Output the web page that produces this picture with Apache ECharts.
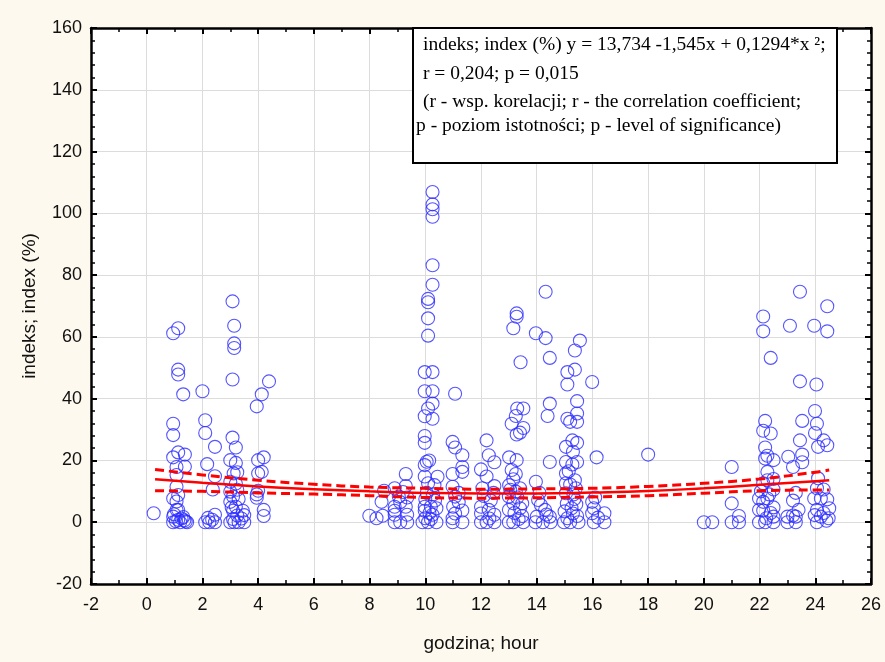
<!DOCTYPE html>
<html>
<head>
<meta charset="utf-8">
<script src="https://cdn.jsdelivr.net/npm/echarts@6/dist/echarts.min.js"></script>
<style>
  html, body { margin: 0; padding: 0; background: #fdf9ef; }
  #chart { width: 885px; height: 662px; }
</style>
</head>
<body>
<div id="chart"></div>
<script>
var pointsNight = [
  [0.25, 2.9],
  [0.95, 61.2], [1.13, 62.8], [1.13, 49.4], [1.13, 47.8], [1.31, 41.4], [0.95, 31.9], [0.95, 28.2],
  [1.13, 22.6], [1.37, 21.9], [0.95, 21], [1.07, 17.9], [1.37, 18], [1.07, 15.3], [1.07, 11.5],
  [1.13, 8.8], [0.95, 7.7], [1.07, 6.7], [1.13, 4], [1.07, 4], [0.95, 1.8], [1.31, 1.7], [1.13, 0.8],
  [0.95, 0], [1.45, 0], [1.2, 0], [1.05, 0.3], [1.35, 0.6], [1.25, 1.2], [0.98, 2.6], [1.4, 0.2],
  [2.0, 42.4], [2.1, 33], [2.1, 28.9], [2.45, 24.4], [2.17, 18.8], [2.45, 14.9], [2.37, 10.6],
  [2.45, 2.4], [2.2, 1.4], [2.1, 0], [2.45, 0], [2.25, 0], [2.35, 0.8],
  [3.08, 71.5], [3.14, 63.6], [3.14, 57.9], [3.14, 56.4], [3.08, 46.2], [3.08, 27.4], [3.2, 24.2],
  [3.0, 20.1], [3.2, 19.2], [3.12, 15.8], [3.25, 16.2], [3.0, 13.1], [3.2, 12.5], [3.0, 9.9],
  [3.25, 10.5], [3.1, 8.3], [3.0, 6.6], [3.2, 5], [3.1, 3.7], [3.45, 3.7], [3.5, 2.3], [3.1, 1],
  [3.0, 0], [3.15, 0], [3.3, 0], [3.5, 0], [3.4, 1.2], [3.25, 2.2], [3.05, 4.8], [3.3, 7.5],
  [4.39, 45.6], [4.13, 41.4], [3.95, 37.5], [4.0, 20.1], [4.2, 21], [4.0, 15.8], [4.13, 16.3],
  [4.0, 10.2], [3.95, 9], [3.95, 7.9], [4.2, 4], [4.2, 2]
];

var pointsDay = [
  [7.99, 2.1], [8.25, 1.3], [8.47, 2.1], [8.43, 6.6], [8.52, 10.2],
  [9.3, 15.6], [8.9, 11], [9.3, 11.7], [9.05, 8.3], [9.35, 8], [8.9, 5], [9.3, 5], [8.9, 2.4],
  [9.35, 2.4], [8.9, 0], [9.35, 0], [9.1, 0], [8.9, 3.7], [9.1, 6.5], [9.2, 9.8],
  [10.26, 106.9], [10.26, 102.9], [10.26, 101.3], [10.26, 98.9], [10.26, 83.2], [10.26, 76.9],
  [10.1, 72.3], [10.1, 71.2], [10.1, 66], [10.1, 60.4], [9.98, 48.6], [10.26, 48.6], [9.98, 42.4],
  [10.26, 42.4], [10.26, 38.4], [10.1, 36.8], [9.98, 34.3], [10.26, 33.5], [9.98, 27.9], [9.98, 25.7],
  [10.05, 19.6], [10.14, 20], [9.98, 18.5], [10.44, 14.7], [9.98, 14.8], [10.1, 12.6], [10.33, 12],
  [10.05, 9.5], [10.28, 9], [9.98, 5], [10.2, 5], [10.4, 4.5], [9.98, 3.7], [10.26, 2.4], [10.0, 1.3],
  [9.9, 0], [10.1, 0], [10.4, 0], [10.2, 1], [10.35, 7], [10.0, 7.5], [10.15, 3],
  [11.07, 41.6], [10.98, 26], [11.07, 24.2], [11.33, 21.7], [11.33, 17.9], [11.33, 16.3], [10.98, 15.6],
  [10.98, 11.5], [11.2, 9.5], [11.07, 8.3], [11.0, 5], [11.33, 3.8], [11.07, 2.8], [10.98, 1.3],
  [10.98, 0], [11.33, 0], [11.2, 6.5],
  [12.2, 26.5], [12.28, 21.7], [12.48, 19.4], [12.0, 17.1], [12.2, 14.8], [12.48, 11.7], [12.0, 5],
  [12.28, 4], [12.0, 2.8], [12.48, 2.4], [12.0, 0], [12.2, 0], [12.48, 0], [12.1, 8.5], [12.35, 7],
  [12.45, 9.5], [12.05, 11], [12.3, 1.2],
  [13.28, 67.6], [13.28, 66.5], [13.16, 62.8], [13.42, 51.8], [13.52, 36.8], [13.3, 36.8], [13.25, 34.4],
  [13.1, 31.9], [13.52, 30.5], [13.28, 28.4], [13.4, 29], [13.01, 21], [13.28, 20.1], [13.1, 16.9],
  [13.25, 15.6], [13.16, 13.9], [13.01, 12], [13.25, 9.9], [13.0, 8.3], [13.48, 6.1], [13.16, 6.1],
  [13.0, 4], [13.48, 2], [13.16, 0], [13.0, 0], [13.52, 0], [13.35, 1], [13.2, 3], [13.4, 4.5],
  [13.05, 10.5], [13.4, 11], [13.3, 8],
  [14.32, 74.6], [13.97, 61.2], [14.32, 59.6], [14.47, 53.2], [14.47, 38.4], [14.39, 34.4], [14.47, 19.5],
  [13.97, 13.1], [14.05, 7.2], [14.15, 5.6], [14.3, 4], [14.0, 1.8], [14.47, 1.8], [13.95, 0],
  [14.22, 0], [14.5, 0], [14.1, 9.5], [14.35, 2.5],
  [15.55, 58.8], [15.37, 55.6], [15.1, 48.6], [15.37, 49.4], [15.1, 44.6], [15.45, 39.2], [15.45, 35.2],
  [15.1, 33.5], [15.2, 32.5], [15.45, 32.5], [15.28, 26.5], [15.45, 25.7], [15.05, 24.4], [15.3, 22.8],
  [15.05, 19.5], [15.45, 19.5], [15.28, 18.7], [15.05, 15.8], [15.37, 13.6], [15.05, 12.6], [15.2, 12.2],
  [15.05, 9.4], [15.32, 9], [15.08, 6.1], [15.42, 5.8], [15.1, 1.3], [15.3, 2.8], [14.98, 0], [15.2, 0],
  [15.5, 0], [15.45, 2], [15.25, 4.5], [15.0, 3.5], [15.4, 11], [15.15, 16.5], [15.35, 7.5],
  [15.99, 45.4], [16.15, 21], [15.99, 6.6], [16.05, 4.5], [16.43, 2.9], [15.99, 2.9], [16.05, 0],
  [16.43, 0], [16.1, 8], [16.2, 1.5]
];

var pointsEvening = [
  [18.0, 21.9],
  [20.0, 0], [20.3, 0],
  [21.0, 17.9], [21.0, 6.1], [21.26, 2], [21.0, 0], [21.26, 0],
  [22.13, 66.6], [22.13, 61.8], [22.4, 53.2], [22.2, 32.8], [22.13, 29.6], [22.4, 28.7], [22.2, 24.2],
  [22.2, 20.6], [22.5, 20.1], [22.28, 21.5], [22.28, 16.3], [22.28, 13.6], [22.5, 14], [22.13, 12.6],
  [22.5, 10.6], [21.98, 7.7], [22.13, 6.6], [22.28, 7.7], [22.5, 4.8], [21.98, 4], [22.13, 3.8],
  [22.24, 1.3], [22.5, 1.8], [21.98, 0], [22.2, 0], [22.5, 0], [22.35, 9], [22.05, 10], [22.4, 3],
  [23.45, 74.6], [23.09, 63.6], [23.45, 45.6], [23.53, 32.8], [23.45, 26.5], [23.53, 21.9], [23.03, 21.2],
  [23.53, 19.4], [23.2, 17.9], [23.3, 9.5], [23.2, 7], [23.0, 1.8], [23.2, 2.2], [23.3, 1.8], [23.0, 0],
  [23.3, 0], [23.4, 4],
  [24.43, 69.9], [23.96, 63.6], [24.43, 61.8], [24.04, 44.6], [23.99, 36], [24.06, 31.9], [23.99, 28.9],
  [24.1, 24.4], [24.43, 24.9], [24.3, 26.5], [24.1, 14.2], [24.06, 11], [24.3, 10.6], [23.96, 7.7],
  [24.2, 7.7], [24.43, 7.4], [24.06, 4], [24.5, 4.5], [24.3, 3], [24.48, 1.3], [24.06, 0], [24.4, 0.5],
  [24.2, 1.8], [23.98, 2.3]
];

// fitted curve and its 95% band
var fitHours = [0.3, 2, 4, 6, 8, 10, 12, 14, 16, 18, 20, 22, 24, 24.5];
var fitValues = [13.9, 12.8, 11.6, 10.7, 10.0, 9.5, 9.3, 9.3, 9.6, 10.1, 11.0, 12.1, 13.3, 13.6];
var fitUpper = [17.1, 15.3, 13.6, 12.3, 11.4, 11.0, 10.7, 10.8, 11.0, 11.6, 12.6, 14.0, 16.2, 16.9];
var fitLower = [10.2, 10.0, 9.5, 9.1, 8.6, 8.0, 7.8, 7.9, 8.2, 8.6, 9.4, 10.2, 10.4, 10.4];

var infoLines = [
  'indeks; index (%) y = 13,734 -1,545x + 0,1294*x \u00b2;',
  'r = 0,204; p = 0,015',
  '(r - wsp. korelacji; r - the correlation coefficient;',
  'p - poziom istotności; p - level of significance)'
];

var sansFont = '"Liberation Sans", Arial, sans-serif';
var serifFont = '"Liberation Serif", "Times New Roman", serif';

function zip(xs, ys) {
  var out = [];
  for (var i = 0; i < xs.length; ++i) {
    out.push([xs[i], ys[i]]);
  }
  return out;
}

function makeAxis(min, max, interval, minorSplit, position, showLabels) {
  return {
    type: 'value',
    position: position,
    min: min,
    max: max,
    interval: interval,
    axisLine: { show: true, onZero: false, lineStyle: { color: '#000', width: 2.5 } },
    axisTick: { show: true, inside: true, length: 6, lineStyle: { color: '#000', width: 2 } },
    minorTick: { show: true, splitNumber: minorSplit, length: 4, lineStyle: { color: '#000', width: 1.5 } },
    axisLabel: {
      show: showLabels,
      color: '#111',
      fontSize: 18,
      fontFamily: sansFont
    },
    splitLine: { show: showLabels, lineStyle: { color: '#dcdcdc', width: 1 } }
  };
}

var xMain = makeAxis(-2, 26, 2, 2, 'bottom', true);
xMain.axisLabel.margin = 12;
xMain.name = 'godzina; hour';
xMain.nameLocation = 'middle';
xMain.nameGap = 50;
xMain.nameTextStyle = { color: '#111', fontSize: 19, fontFamily: sansFont };

var yMain = makeAxis(-20, 160, 20, 5, 'left', true);
yMain.axisLabel.margin = 9;
yMain.name = 'indeks; index (%)';
yMain.nameLocation = 'middle';
yMain.nameGap = 52;
yMain.nameTextStyle = { color: '#111', fontSize: 19, fontFamily: sansFont };

var chart = echarts.init(document.getElementById('chart'));

var scatterStyle = {
  type: 'scatter',
  symbol: 'circle',
  symbolSize: 13,
  itemStyle: { color: 'rgba(0,0,0,0)', borderColor: '#2b2bff', borderWidth: 1.1 },
  animation: false,
  z: 2
};

var series = [];
[pointsNight, pointsDay, pointsEvening].forEach(function(pts) {
  var s = Object.assign({}, scatterStyle);
  s.data = pts;
  series.push(s);
});

series.push({
  type: 'line',
  data: zip(fitHours, fitValues),
  smooth: true,
  showSymbol: false,
  lineStyle: { color: '#ff0000', width: 2.5 },
  z: 5
});
[fitUpper, fitLower].forEach(function(band) {
  series.push({
    type: 'line',
    data: zip(fitHours, band),
    smooth: true,
    showSymbol: false,
    lineStyle: { color: '#ff0000', width: 3, type: [9, 5] },
    z: 5
  });
});

var graphics = [{
  type: 'rect',
  shape: { x: 413, y: 28, width: 424, height: 135 },
  style: { fill: '#fff', stroke: '#000', lineWidth: 2 },
  z: 100
}];
var lineY = [45, 74, 102, 126];
var lineX = [423, 423, 423, 416];
for (var i = 0; i < infoLines.length; ++i) {
  graphics.push({
    type: 'text',
    x: lineX[i],
    y: lineY[i],
    style: {
      text: infoLines[i],
      fill: '#000',
      font: '19.5px ' + serifFont,
      verticalAlign: 'middle'
    },
    z: 101
  });
}

chart.setOption({
  backgroundColor: '#fdf9ef',
  animation: false,
  grid: {
    left: 91,
    right: 14,
    top: 28,
    bottom: 78,
    show: true,
    backgroundColor: '#fff',
    borderWidth: 0
  },
  xAxis: [xMain, makeAxis(-2, 26, 2, 2, 'top', false)],
  yAxis: [yMain, makeAxis(-20, 160, 20, 5, 'right', false)],
  series: series,
  graphic: graphics
});
</script>
</body>
</html>
